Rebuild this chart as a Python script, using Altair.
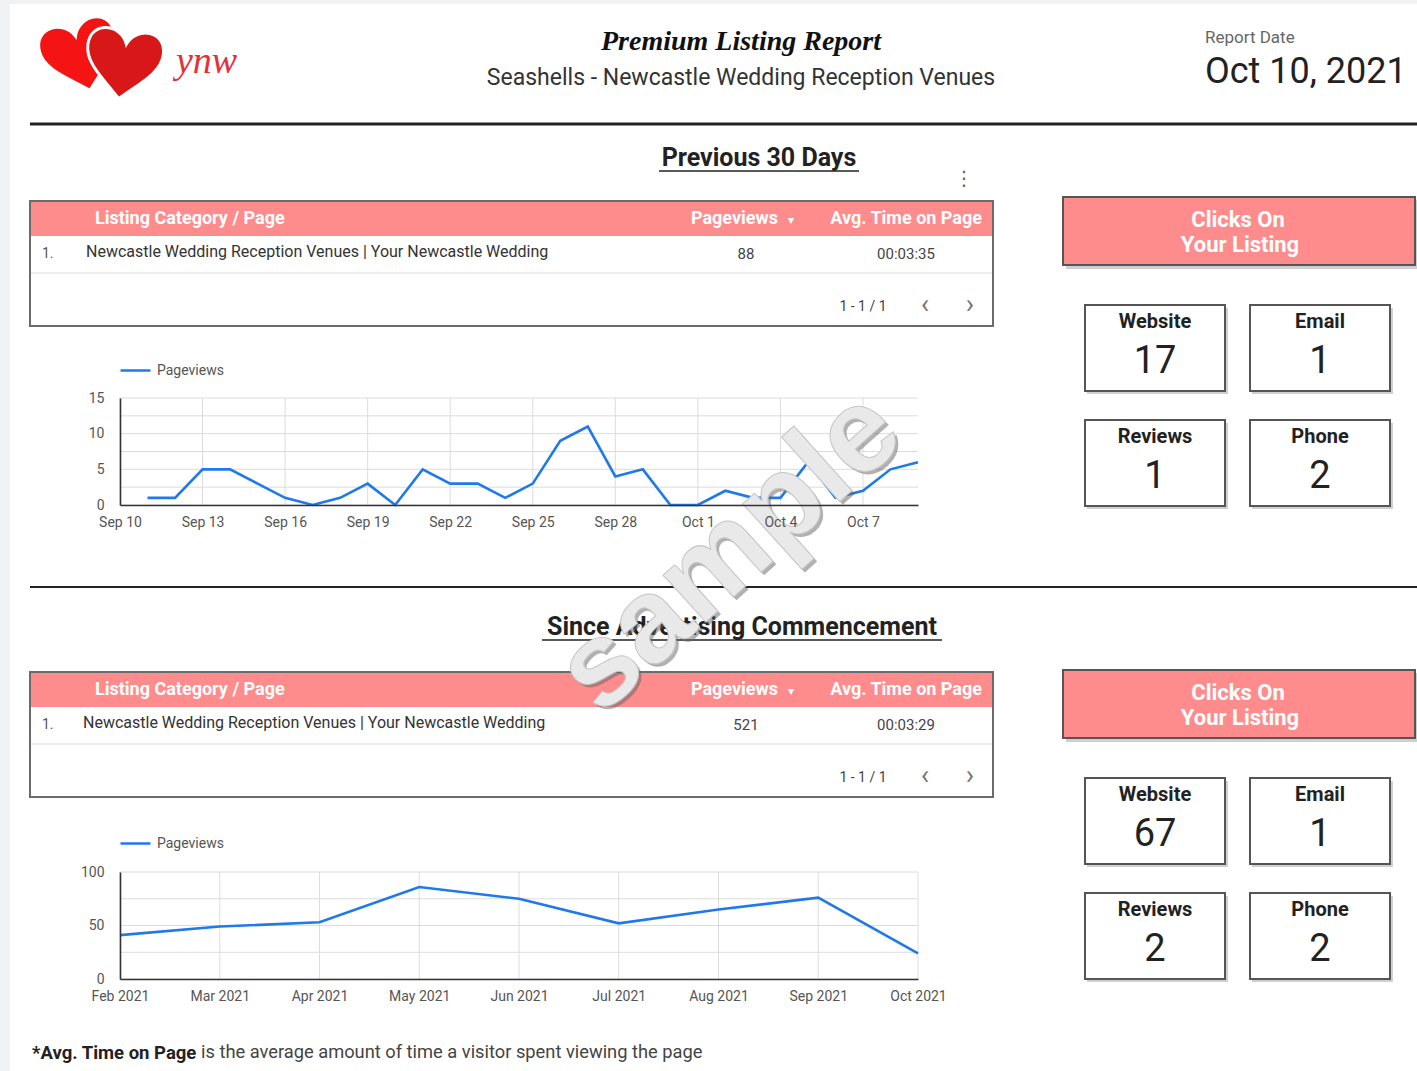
import altair as alt
import pandas as pd

# ---------------- data ----------------
day_labels = ["Sep 10", "Sep 11", "Sep 12", "Sep 13", "Sep 14", "Sep 15", "Sep 16", "Sep 17",
              "Sep 18", "Sep 19", "Sep 20", "Sep 21", "Sep 22", "Sep 23", "Sep 24", "Sep 25",
              "Sep 26", "Sep 27", "Sep 28", "Sep 29", "Sep 30", "Oct 1", "Oct 2", "Oct 3",
              "Oct 4", "Oct 5", "Oct 6", "Oct 7", "Oct 8", "Oct 9"]
day_ticks = ["Sep 10", "Sep 13", "Sep 16", "Sep 19", "Sep 22", "Sep 25", "Sep 28",
             "Oct 1", "Oct 4", "Oct 7"]
pageview_days = ["Sep 11", "Sep 12", "Sep 13", "Sep 14", "Sep 15", "Sep 16", "Sep 17",
                 "Sep 18", "Sep 19", "Sep 20", "Sep 21", "Sep 22", "Sep 23", "Sep 24", "Sep 25",
                 "Sep 26", "Sep 27", "Sep 28", "Sep 29", "Sep 30", "Oct 1", "Oct 2", "Oct 3",
                 "Oct 4", "Oct 5", "Oct 6", "Oct 7", "Oct 8", "Oct 9"]
pageviews_30d = [1, 1, 5, 5, 3, 1, 0, 1, 3, 0, 5, 3, 3, 1, 3, 9, 11, 4, 5, 0,
                 0, 2, 1, 1, 6, 1, 2, 5, 6]
y_ticks_30d = [0, 5, 10, 15]
y_grid_30d = [0, 2.5, 5, 7.5, 10, 12.5, 15]

month_labels = ["Feb 2021", "Mar 2021", "Apr 2021", "May 2021", "Jun 2021",
                "Jul 2021", "Aug 2021", "Sep 2021", "Oct 2021"]
pageviews_monthly = [41, 49, 53, 86, 75, 52, 65, 76, 24]
y_ticks_m = [0, 50, 100]
y_grid_m = [0, 25, 50, 75, 100]

table_page = "Newcastle Wedding Reception Venues  |  Your Newcastle Wedding"
table_30d = ["88", "00:03:35"]
table_all = ["521", "00:03:29"]
kpi_names = ["Website", "Email", "Reviews", "Phone"]
kpi_30d = [17, 1, 1, 2]
kpi_all = [67, 1, 2, 2]

# ---------------- style ----------------
W, H = 1417, 1071
PINK = "#ff8c8c"
BLUE = "#1f7ae8"
GRID = "#dcdcdc"
X0, X1 = 120, 918
FONT = "Roboto"

DUMMY = pd.DataFrame({"k": [0]})


def txt(s, x, y, size=14, color="#333", weight="normal", align="left", font=FONT,
        style="normal", angle=0, opacity=1.0, stroke=None, sw=0):
    props = dict(text=s, fontSize=size, color=color, fontWeight=weight, align=align,
                 font=font, fontStyle=style, baseline="middle", opacity=opacity)
    if angle:
        props["angle"] = angle
    if stroke:
        props["stroke"] = stroke
        props["strokeWidth"] = sw
    return alt.Chart(DUMMY).mark_text(**props).encode(x=alt.value(x), y=alt.value(y))


def box(x1, y1, x2, y2, fill="white", stroke=None, sw=0):
    props = dict(fill=fill)
    if stroke:
        props.update(stroke=stroke, strokeWidth=sw)
    return alt.Chart(DUMMY).mark_rect(**props).encode(
        x=alt.value(x1), x2=alt.value(x2), y=alt.value(y1), y2=alt.value(y2))


def hline(x1, x2, y, color, w):
    return alt.Chart(DUMMY).mark_rule(color=color, strokeWidth=w).encode(
        x=alt.value(x1), x2=alt.value(x2), y=alt.value(y))


HEART = ("M0,-0.45 C-0.2,-0.95 -1,-0.95 -1,-0.3 C-1,0.2 -0.45,0.55 0,1 "
         "C0.45,0.55 1,0.2 1,-0.3 C1,-0.95 0.2,-0.95 0,-0.45 Z")


def heart(x, y, size, color, angle):
    return alt.Chart(DUMMY).mark_point(shape=HEART, filled=True, fill=color, stroke="white",
                                       strokeWidth=3, opacity=1, angle=angle).encode(
        x=alt.value(x), y=alt.value(y), size=alt.value(size))


def line_chart(x_labels, x_data, values, x_ticks, y_dom, y_ticks, y_grid, y_top, y_bot, legend_y):
    df = pd.DataFrame({"x": x_data, "v": values, "series": "Pageviews"})
    xs = alt.Scale(type="point", domain=x_labels, range=[X0, X1], padding=0)
    ys = alt.Scale(domain=y_dom, range=[y_bot, y_top], nice=False, zero=False)
    x_axis = alt.Axis(orient="bottom", offset=y_bot - H, values=x_ticks, grid=False,
                      ticks=False, domainColor="#333", domainWidth=1.6, labelAngle=0,
                      labelFont=FONT, labelFontSize=14, labelColor="#555",
                      labelPadding=10, title=None, zindex=1)
    y_axis = alt.Axis(orient="left", offset=-X0, values=y_ticks, grid=False,
                      ticks=False, domainColor="#333", domainWidth=1.6,
                      labelFont=FONT, labelFontSize=14, labelColor="#555",
                      labelPadding=16, title=None, zindex=1)
    vgrid = alt.Chart(pd.DataFrame({"x": x_ticks})).mark_rule(color=GRID, strokeWidth=1).encode(
        x=alt.X("x:N", scale=xs, axis=x_axis, title=None), y=alt.value(y_top), y2=alt.value(y_bot))
    hgrid = alt.Chart(pd.DataFrame({"v": y_grid})).mark_rule(color=GRID, strokeWidth=1).encode(
        y=alt.Y("v:Q", scale=ys, axis=y_axis, title=None), x=alt.value(X0), x2=alt.value(X1))
    line = alt.Chart(df).mark_line(strokeWidth=2.6).encode(
        x=alt.X("x:N", sort=x_labels, scale=xs, title=None, axis=x_axis),
        y=alt.Y("v:Q", scale=ys, title=None, axis=y_axis),
        color=alt.Color("series:N", scale=alt.Scale(domain=["Pageviews"], range=[BLUE]),
                        legend=alt.Legend(orient="none", legendX=X0 - 1, legendY=legend_y,
                                          title=None, symbolType="stroke", symbolSize=900,
                                          symbolStrokeWidth=2.5, labelFont=FONT,
                                          labelFontSize=14, labelColor="#555", labelOffset=5)))
    return alt.layer(vgrid, hgrid, line)


def table(dy, text_x, vals):
    return [
        box(30, 201 + dy, 993, 326 + dy, "white", "#6b6b6b", 2),
        box(31, 202 + dy, 992, 236 + dy, PINK),
        txt("Listing Category / Page", 95, 219 + dy, 18, "white", "bold"),
        txt("Pageviews", 778, 219 + dy, 18, "white", "bold", "right"),
        txt("▾", 791, 220 + dy, 12, "white", align="center", font="DejaVu Sans"),
        txt("Avg. Time on Page", 982, 219 + dy, 18, "white", "bold", "right"),
        txt("1.", 42, 254 + dy, 14, "#555"),
        txt(table_page, text_x, 252 + dy, 16, "#333"),
        txt(vals[0], 746, 254 + dy, 15, "#444", align="center"),
        txt(vals[1], 906, 254 + dy, 15, "#444", align="center"),
        hline(31, 992, 273 + dy, "#dddddd", 1),
        txt("1 - 1 / 1", 863, 307 + dy, 14, "#444", align="center"),
        txt("‹", 925, 305 + dy, 28, "#777", align="center"),
        txt("›", 970, 305 + dy, 28, "#777", align="center"),
    ]


def kpis(dy, values):
    out = [
        box(1066, 200 + dy, 1418, 269 + dy, "#cfcfcf"),
        box(1063, 197 + dy, 1415, 265 + dy, PINK, "#555", 2),
        txt("Clicks On", 1238, 220 + dy, 22, "white", "bold", "center"),
        txt("Your Listing", 1240, 245 + dy, 22, "white", "bold", "center"),
    ]
    pos = [(1085, 305), (1250, 305), (1085, 420), (1250, 420)]
    for (bx, by), name, v in zip(pos, kpi_names, values):
        out += [
            box(bx + 2, by + dy + 3, bx + 143, by + dy + 89, "#d0d0d0"),
            box(bx, by + dy, bx + 140, by + dy + 86, "white", "#555", 2),
            txt(name, bx + 70, by + dy + 17, 20, "#222", "bold", "center"),
            txt(str(v), bx + 70, by + dy + 57, 38, "#222", "normal", "center"),
        ]
    return out


layers = [
    box(0, 0, 10, H, "#f1f2f4"),
    box(0, 0, W, 4, "#f1f2f4"),
    # logo
    heart(80, 53, 6000, "#f41414", 345),
    heart(124, 61, 5800, "#d81818", 8),
    txt("ynw", 176, 62, 38, "#e5303a", font="Liberation Serif", style="italic"),
    # header
    txt("Premium Listing Report", 741, 42, 28, "#111", "bold", "center",
        font="Liberation Serif", style="italic"),
    txt("Seashells - Newcastle Wedding Reception Venues", 741, 78, 23, "#333", align="center"),
    txt("Report Date", 1205, 38, 17, "#666"),
    txt("Oct 10, 2021", 1205, 72, 36, "#222"),
    hline(30, W, 124, "#222", 3),
    # section 1
    txt("Previous 30 Days", 759, 158, 25, "#222", "bold", "center"),
    hline(659, 859, 171, "#222", 1.5),
    txt("⋮", 964, 179, 20, "#666", align="center", font="DejaVu Sans"),
] + table(0, 86, table_30d) + kpis(0, kpi_30d) + [
    line_chart(day_labels, pageview_days, pageviews_30d, day_ticks, [0, 15], y_ticks_30d,
               y_grid_30d, 398, 505, 354),
    hline(30, W, 587, "#222", 2),
    # section 2
    txt("Since Advertising Commencement", 742, 627, 25, "#222", "bold", "center"),
    hline(542, 942, 640, "#222", 1.5),
] + table(471, 83, table_all) + kpis(473, kpi_all) + [
    line_chart(month_labels, month_labels, pageviews_monthly, month_labels, [0, 100], y_ticks_m,
               y_grid_m, 872, 979, 827),
    # footnote
    txt("*Avg. Time on Page", 32, 1053, 18.5, "#222", "bold"),
    txt("is the average amount of time a visitor spent viewing the page", 201, 1053, 18.3, "#444"),
    # watermark
    txt("sample", 733, 555, 120, "#666", "bold", "center", font="Liberation Sans",
        angle=318, opacity=0.5),
    txt("sample", 730, 552, 120, "#e9e9e9", "bold", "center", font="Liberation Sans",
        angle=318, stroke="#c6c6c6", sw=1),
]

chart = alt.layer(*layers).resolve_scale(
    x="independent", y="independent", color="independent"
).properties(
    width=W, height=H, autosize=alt.AutoSizeParams(type="none"), padding=0, background="white"
).configure_view(stroke=None)

chart.save("out.html", embed_options={"renderer": "svg", "actions": False})
